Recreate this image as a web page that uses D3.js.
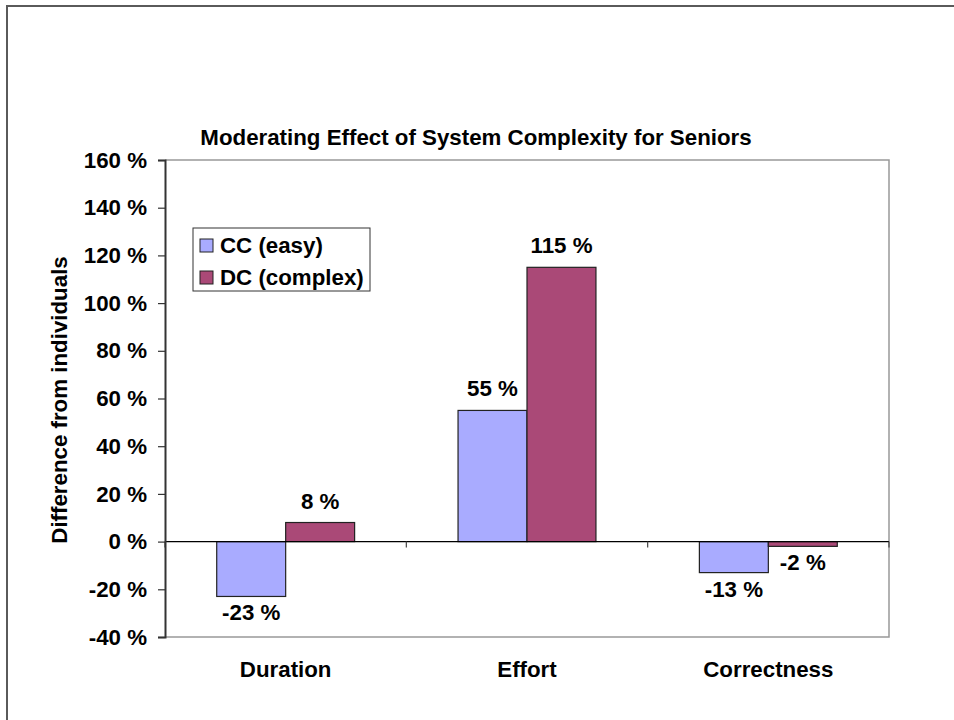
<!DOCTYPE html>
<html>
<head>
<meta charset="utf-8">
<script src="https://cdn.jsdelivr.net/npm/d3@7"></script>
<style>
  html, body { margin: 0; padding: 0; background: #fff; }
  svg { display: block; }
  text { font-family: Arial, "Liberation Sans", sans-serif; font-weight: bold; fill: #000; }
</style>
</head>
<body>
<svg id="chart" width="954" height="720"></svg>
<script>
// Chart data
const categories = ["Duration", "Effort", "Correctness"];
const seriesNames = ["CC (easy)", "DC (complex)"];
const ccValues = [-23, 55, -13];
const dcValues = [8, 115, -2];
const yTicks = [-40, -20, 0, 20, 40, 60, 80, 100, 120, 140, 160];
const titleText = "Moderating Effect of System Complexity for Seniors";
const yAxisTitle = "Difference from individuals";

const colors = { "CC (easy)": "#A9ABFF", "DC (complex)": "#AA4977" };
const seriesValues = { "CC (easy)": ccValues, "DC (complex)": dcValues };
const fontSize = 22.3;

const svg = d3.select("#chart");
const plot = { left: 165, right: 889, top: 160, bottom: 637 };

// Outer frame of the chart area
svg.append("rect")
  .attr("x", 7).attr("y", 6)
  .attr("width", 1000).attr("height", 1000)
  .attr("fill", "none").attr("stroke", "#5a5a5a").attr("stroke-width", 2);

const y = d3.scaleLinear().domain([-40, 160]).range([plot.bottom, plot.top]);
const x0 = d3.scaleBand().domain(categories).range([plot.left, plot.right]).paddingInner(0).paddingOuter(0);
const x1 = d3.scaleBand().domain(seriesNames).range([0, x0.bandwidth()]).paddingInner(0).paddingOuter(0.75);

// Plot area border (top, right, bottom)
svg.append("path")
  .attr("d", `M${plot.left},${plot.top}H${plot.right}V${plot.bottom}H${plot.left}`)
  .attr("fill", "none").attr("stroke", "#999").attr("stroke-width", 1.5);

// Bars
const groups = svg.append("g").selectAll("g")
  .data(categories)
  .join("g")
  .attr("transform", d => `translate(${x0(d)},0)`);

groups.selectAll("rect")
  .data((c, i) => seriesNames.map(s => ({ s, v: seriesValues[s][i] })))
  .join("rect")
  .attr("x", d => x1(d.s))
  .attr("width", x1.bandwidth())
  .attr("y", d => y(Math.max(0, d.v)))
  .attr("height", d => Math.abs(y(d.v) - y(0)))
  .attr("fill", d => colors[d.s])
  .attr("stroke", "#222").attr("stroke-width", 1.2);

// Value labels
groups.selectAll("text")
  .data((c, i) => seriesNames.map(s => ({ s, v: seriesValues[s][i] })))
  .join("text")
  .attr("x", d => x1(d.s) + x1.bandwidth() / 2)
  .attr("y", d => d.v >= 0 ? y(d.v) - 14 : y(d.v) + 24)
  .attr("text-anchor", "middle")
  .attr("font-size", fontSize)
  .text(d => `${d.v} %`);

// Zero baseline with category separators
svg.append("line")
  .attr("x1", plot.left).attr("x2", plot.right)
  .attr("y1", y(0)).attr("y2", y(0))
  .attr("stroke", "#000").attr("stroke-width", 1.2);

const boundaries = categories.map(c => x0(c)).concat([plot.right]);
svg.append("g").selectAll("line")
  .data(boundaries)
  .join("line")
  .attr("x1", d => d).attr("x2", d => d)
  .attr("y1", y(0)).attr("y2", y(0) + 6)
  .attr("stroke", "#444").attr("stroke-width", 1.2);

// Y axis
const yAxis = d3.axisLeft(y)
  .tickValues(yTicks)
  .tickSize(7)
  .tickPadding(11)
  .tickFormat(d => `${d} %`);

const yg = svg.append("g")
  .attr("transform", `translate(${plot.left},0)`)
  .call(yAxis);
yg.select(".domain").attr("stroke", "#333").attr("stroke-width", 2);
yg.selectAll(".tick line").attr("stroke", "#333").attr("stroke-width", 1.2);
yg.selectAll(".tick text")
  .attr("font-size", fontSize)
  .attr("font-family", "Arial, 'Liberation Sans', sans-serif")
  .attr("font-weight", "bold")
  .attr("fill", "#000");

// Category labels
svg.append("g").selectAll("text")
  .data(categories)
  .join("text")
  .attr("x", d => x0(d) + x0.bandwidth() / 2)
  .attr("y", 677)
  .attr("text-anchor", "middle")
  .attr("font-size", fontSize)
  .text(d => d);

// Title
svg.append("text")
  .attr("x", 476).attr("y", 145)
  .attr("text-anchor", "middle")
  .attr("font-size", fontSize)
  .text(titleText);

// Y axis title
svg.append("text")
  .attr("transform", `translate(67,400) rotate(-90)`)
  .attr("text-anchor", "middle")
  .attr("font-size", fontSize)
  .text(yAxisTitle);

// Legend
const legend = svg.append("g").attr("transform", "translate(193,228)");
legend.append("rect")
  .attr("width", 177).attr("height", 63)
  .attr("fill", "#fff").attr("stroke", "#333").attr("stroke-width", 1);
const items = legend.selectAll("g")
  .data(seriesNames)
  .join("g")
  .attr("transform", (d, i) => `translate(7,${11 + i * 32})`);
items.append("rect")
  .attr("width", 13).attr("height", 13)
  .attr("fill", d => colors[d])
  .attr("stroke", "#222").attr("stroke-width", 1);
items.append("text")
  .attr("x", 20).attr("y", 14)
  .attr("font-size", fontSize)
  .text(d => d);
</script>
</body>
</html>
